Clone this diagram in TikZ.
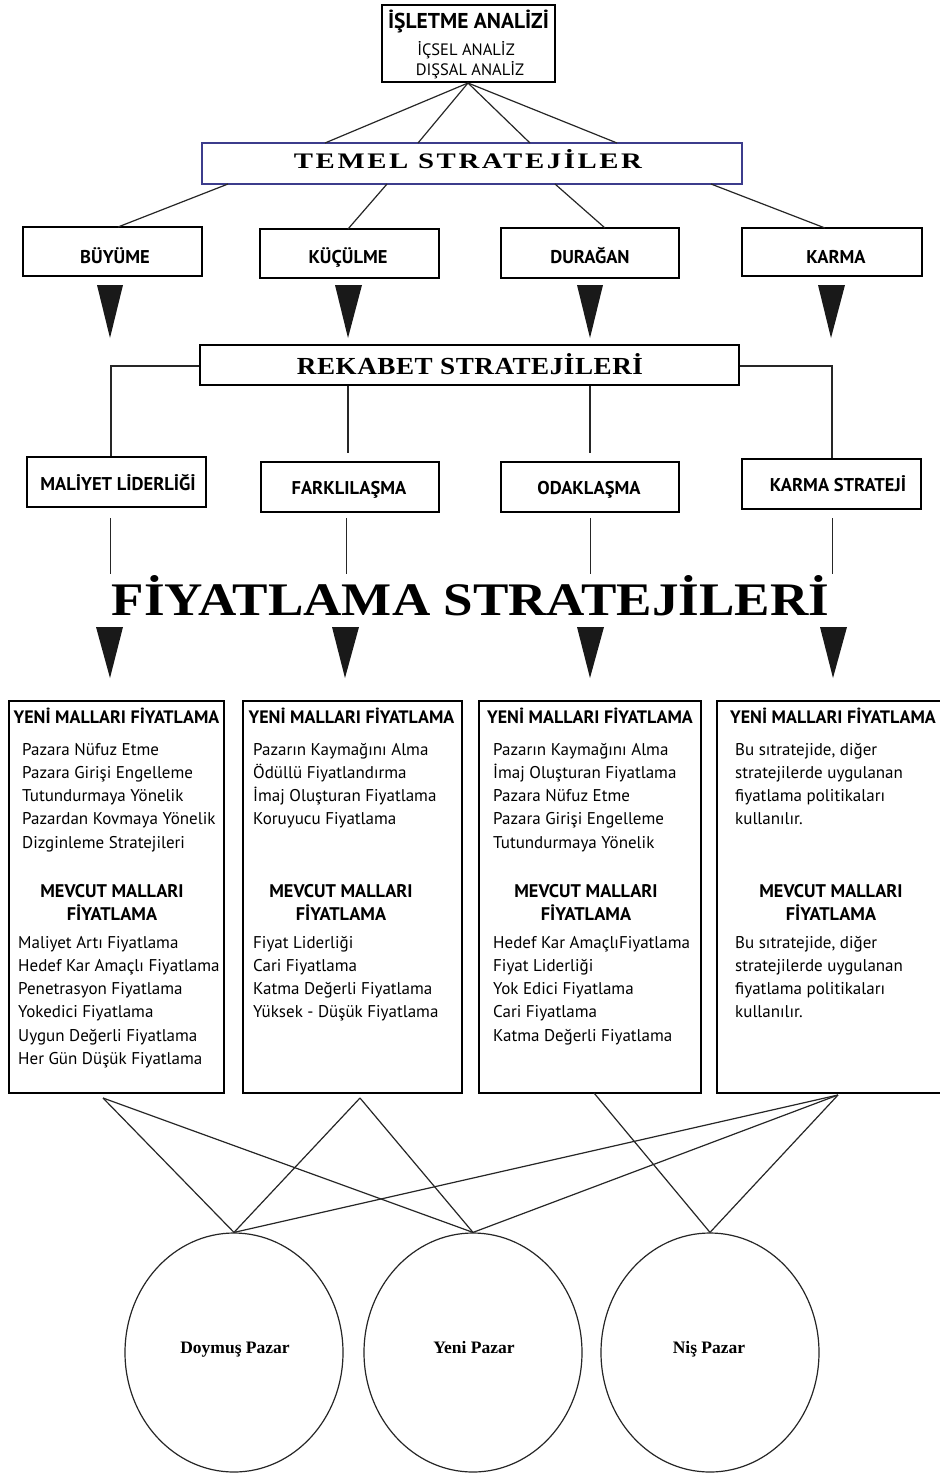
\documentclass[tikz,border=0pt]{standalone}
\usepackage{graphicx}
\usepackage{fontspec}
\setmainfont{Liberation Serif}
\newfontfamily\pts{PT Sans}
\newfontfamily\serA[LetterSpace=9]{Liberation Serif}
\newfontfamily\serB[LetterSpace=2]{Liberation Serif}
\usetikzlibrary{shapes.geometric}
\newcommand{\blk}[1]{\parbox[t]{240pt}{\pts\fontsize{17}{23.25}\selectfont\raggedright #1}}
\newcommand{\mev}{\parbox[t]{200pt}{\centering\pts\bfseries\fontsize{18.3}{23}\selectfont MEVCUT MALLARI\\FİYATLAMA}}
\definecolor{temelblue}{RGB}{60,60,140}
\tikzset{
  box/.style={draw=black, line width=1.5pt, fill=white, inner sep=0pt},
  con/.style={line width=1.2pt, draw=black!85},
  tri/.style={fill=black!90},
  lbl/.style={anchor=base, inner sep=0pt, font=\pts\bfseries\fontsize{18.5}{20}\selectfont},
  hd/.style={anchor=base, inner sep=0pt, font=\pts\bfseries\fontsize{18}{20}\selectfont},
  txt/.style={anchor=base west, inner sep=0pt},
  ctr/.style={anchor=base, inner sep=0pt},
  mkt/.style={draw=black!85, line width=1.2pt, ellipse, minimum width=218pt, minimum height=239pt, inner sep=0pt},
  mktl/.style={anchor=base, inner sep=0pt, font=\bfseries\fontsize{17.5}{20}\selectfont}
}
\begin{document}
\begin{tikzpicture}[x=1pt,y=-1pt]
\fill[white] (0,0) rectangle (940,1473);
\useasboundingbox (0,0) rectangle (940,1473);

% ---- top box
\node[box, minimum width=173pt, minimum height=77pt] (isl) at (468.5,43.5) {};
\node[ctr, font=\pts\bfseries\fontsize{21.5}{20}\selectfont] (islt) at (468.5,28) {İŞLETME ANALİZİ};
\node[ctr, font=\pts\fontsize{16.5}{20}\selectfont] (icsel) at (466,55) {İÇSEL ANALİZ};
\node[ctr, font=\pts\fontsize{16.5}{20}\selectfont] (dissal) at (470,75) {DIŞSAL ANALİZ};

% ---- temel
\node[draw=temelblue, line width=1.5pt, fill=white, inner sep=0pt, minimum width=540pt, minimum height=41pt] (temel) at (472,163.5) {};
\node[ctr] (temelt) at (468,168) {\resizebox{348pt}{19pt}{\serA\bfseries TEMEL STRATEJİLER}};

\coordinate (ta) at (468,83);
\coordinate (tn1) at (325,143);
\coordinate (tn2) at (418,143);
\coordinate (tn3) at (530,143);
\coordinate (tn4) at (617,143);
\foreach \i in {1,...,4} \draw[con] (ta) -- (tn\i);

% ---- row 1
\node[box, minimum width=179pt, minimum height=49pt] (buy) at (112.5,251.5) {};
\node[box, minimum width=179pt, minimum height=49pt] (kuc) at (349.5,253.5) {};
\node[box, minimum width=178pt, minimum height=50pt] (dur) at (590,253) {};
\node[box, minimum width=180pt, minimum height=48pt] (kar) at (832,252) {};
\node[lbl] (buyt) at (115,263) {BÜYÜME};
\node[lbl] (kuct) at (348,263) {KÜÇÜLME};
\node[lbl] (durt) at (590,263) {DURAĞAN};
\node[lbl] (kart) at (836,263) {KARMA};

\coordinate (ts1) at (228,184);
\coordinate (ts2) at (387,184);
\coordinate (ts3) at (555,184);
\coordinate (ts4) at (711,184);
\coordinate (bt1) at (118,227);
\coordinate (bt2) at (348,229);
\coordinate (bt3) at (605,228);
\coordinate (bt4) at (825,228);
\foreach \i in {1,...,4} \draw[con] (ts\i) -- (bt\i);

% triangles row 1
\fill[tri] (97,285) -- (123,285) -- (110,338) -- cycle;
\fill[tri] (335,285) -- (362,285) -- (348,338) -- cycle;
\fill[tri] (577,285) -- (603,285) -- (590,338) -- cycle;
\fill[tri] (818,285) -- (845,285) -- (831,338) -- cycle;

% ---- rekabet
\node[box, minimum width=539pt, minimum height=40pt] (rek) at (469.5,365) {};
\node[ctr] (rekt) at (470,374) {\resizebox{346pt}{21pt}{\serB\bfseries REKABET STRATEJİLERİ}};

% ---- row 2
\node[box, minimum width=179pt, minimum height=50pt] (mal) at (116.5,482) {};
\node[box, minimum width=178pt, minimum height=50pt] (far) at (350,487) {};
\node[box, minimum width=178pt, minimum height=50pt] (oda) at (590,487) {};
\node[box, minimum width=179pt, minimum height=50pt] (kst) at (831.5,484) {};
\node[lbl] (malt) at (118,490) {MALİYET LİDERLİĞİ};
\node[lbl] (fart) at (349,494) {FARKLILAŞMA};
\node[lbl] (odat) at (589,494) {ODAKLAŞMA};
\node[lbl] (kstt) at (838,491) {KARMA STRATEJİ};

\coordinate (rl) at (111,366);
\coordinate (rr) at (832,366);
\draw[con] (rek.west |- rl) -- (rl) -- (mal.north -| rl);
\draw[con] (rek.east |- rr) -- (rr) -- (kst.north -| rr);
\coordinate (rm2) at (348,453);
\coordinate (rm3) at (590,453);
\draw[con] (rek.south -| rm2) -- (rm2);
\draw[con] (rek.south -| rm3) -- (rm3);

% ---- fiyatlama
\node[ctr] (fiy) at (470.5,615) {\resizebox{717pt}{40pt}{\bfseries FİYATLAMA STRATEJİLERİ}};
\coordinate (fa1) at (110,518); \coordinate (fb1) at (110,574);
\coordinate (fa2) at (346,518); \coordinate (fb2) at (346,574);
\coordinate (fa3) at (590,518); \coordinate (fb3) at (590,574);
\coordinate (fa4) at (832,518); \coordinate (fb4) at (832,574);
\foreach \i in {1,...,4} \draw[line width=1pt, draw=black!85] (fa\i) -- (fb\i);

% triangles row 2
\fill[tri] (96,627) -- (123,627) -- (110,678) -- cycle;
\fill[tri] (332,627) -- (359,627) -- (345,678) -- cycle;
\fill[tri] (577,627) -- (604,627) -- (590,678) -- cycle;
\fill[tri] (820,627) -- (847,627) -- (833,678) -- cycle;

% ---- big boxes
\node[box, minimum width=215pt, minimum height=392pt] (bx1) at (116.5,897) {};
\node[box, minimum width=219pt, minimum height=392pt] (bx2) at (352.5,897) {};
\node[box, minimum width=222pt, minimum height=392pt] (bx3) at (590,897) {};
\node[box, minimum width=236pt, minimum height=392pt] (bx4) at (835,897) {};

\node[hd] (h1) at (116.5,723) {YENİ MALLARI FİYATLAMA};
\node[hd] (h2) at (351.5,723) {YENİ MALLARI FİYATLAMA};
\node[hd] (h3) at (590,723) {YENİ MALLARI FİYATLAMA};
\node[hd] (h4) at (833,723) {YENİ MALLARI FİYATLAMA};

\node[txt] (y1) at (22,755) {\blk{Pazara Nüfuz Etme\\Pazara Girişi Engelleme\\Tutundurmaya Yönelik\\Pazardan Kovmaya Yönelik\\Dizginleme Stratejileri}};
\node[txt] (y2) at (253,755) {\blk{Pazarın Kaymağını Alma\\Ödüllü Fiyatlandırma\\İmaj Oluşturan Fiyatlama\\Koruyucu Fiyatlama}};
\node[txt] (y3) at (493,755) {\blk{Pazarın Kaymağını Alma\\İmaj Oluşturan Fiyatlama\\Pazara Nüfuz Etme\\Pazara Girişi Engelleme\\Tutundurmaya Yönelik}};
\node[txt] (y4) at (735,755) {\blk{Bu sıtratejide, diğer\\stratejilerde uygulanan\\fiyatlama politikaları\\kullanılır.}};

\node[ctr] (m1) at (112,897) {\mev};
\node[ctr] (m2) at (341,897) {\mev};
\node[ctr] (m3) at (586,897) {\mev};
\node[ctr] (m4) at (831,897) {\mev};

\node[txt] (e1) at (18,948) {\blk{Maliyet Artı Fiyatlama\\Hedef Kar Amaçlı Fiyatlama\\Penetrasyon Fiyatlama\\Yokedici Fiyatlama\\Uygun Değerli Fiyatlama\\Her Gün Düşük Fiyatlama}};
\node[txt] (e2) at (253,948) {\blk{Fiyat Liderliği\\Cari Fiyatlama\\Katma Değerli Fiyatlama\\Yüksek - Düşük Fiyatlama}};
\node[txt] (e3) at (493,948) {\blk{Hedef Kar AmaçlıFiyatlama\\Fiyat Liderliği\\Yok Edici Fiyatlama\\Cari Fiyatlama\\Katma Değerli Fiyatlama}};
\node[txt] (e4) at (735,948) {\blk{Bu sıtratejide, diğer\\stratejilerde uygulanan\\fiyatlama politikaları\\kullanılır.}};

% ---- markets
\node[mkt] (c1) at (234,1352.5) {};
\node[mkt] (c2) at (473,1352.5) {};
\node[mkt] (c3) at (710,1352.5) {};
\node[mktl] (c1t) at (235,1353) {Doymuş Pazar};
\node[mktl] (c2t) at (474,1353) {Yeni Pazar};
\node[mktl] (c3t) at (709,1353) {Niş Pazar};

\coordinate (p1) at (103,1098);
\coordinate (p2) at (360,1098);
\coordinate (p3) at (594,1093);
\coordinate (p4) at (838,1095);
\draw[con] (p1) -- (c1.north);
\draw[con] (p1) -- (c2.north);
\draw[con] (p2) -- (c1.north);
\draw[con] (p2) -- (c2.north);
\draw[con] (p3) -- (c3.north);
\draw[con] (p4) -- (c1.north);
\draw[con] (p4) -- (c2.north);
\draw[con] (p4) -- (c3.north);
\end{tikzpicture}
\end{document}
